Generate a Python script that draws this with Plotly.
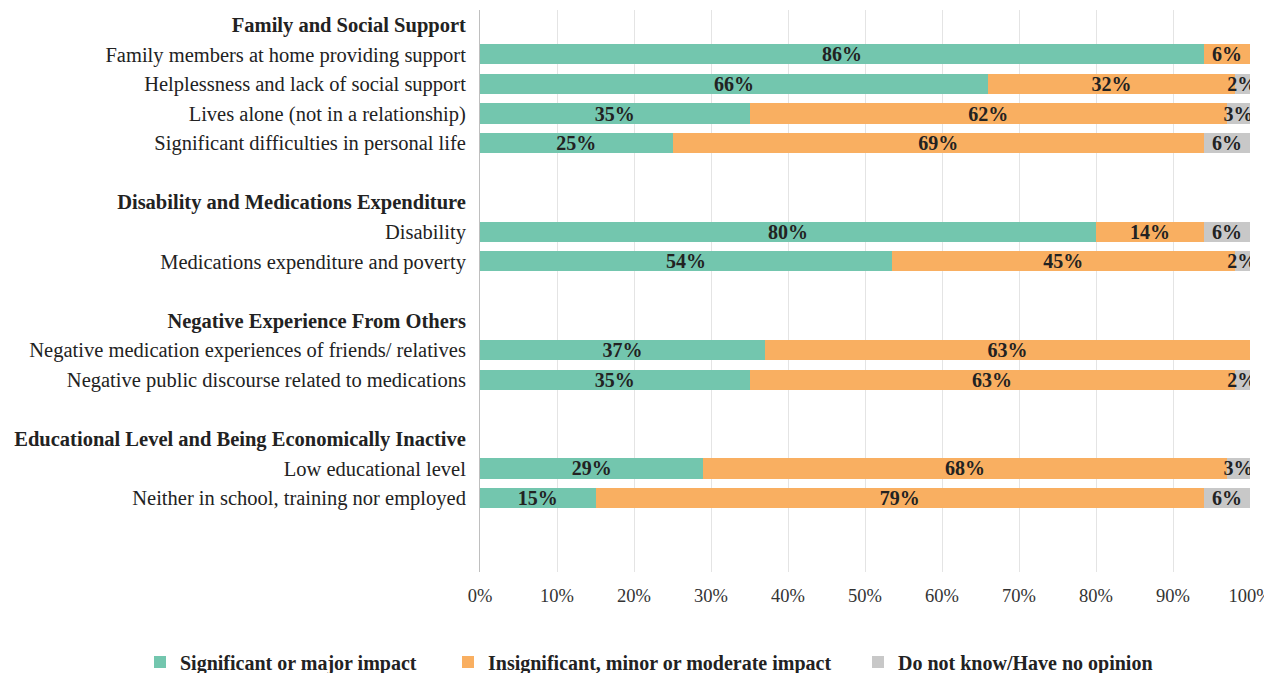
import plotly.graph_objects as go

groups = [
    "Family and Social Support",
    "Disability and Medications Expenditure",
    "Negative Experience From Others",
    "Educational Level and Being Economically Inactive",
]
items = [
    ["Family members at home providing support",
     "Helplessness and lack of social support",
     "Lives alone (not in a relationship)",
     "Significant difficulties in personal life"],
    ["Disability",
     "Medications expenditure and poverty"],
    ["Negative medication experiences of friends/ relatives",
     "Negative public discourse related to medications"],
    ["Low educational level",
     "Neither in school, training nor employed"],
]

categories = [
    "Family members at home providing support",
    "Helplessness and lack of social support",
    "Lives alone (not in a relationship)",
    "Significant difficulties in personal life",
    "Disability",
    "Medications expenditure and poverty",
    "Negative medication experiences of friends/ relatives",
    "Negative public discourse related to medications",
    "Low educational level",
    "Neither in school, training nor employed",
]
significant = [94, 66, 35, 25, 80, 53.5, 37, 35, 29, 15]
significant_labels = ["86%", "66%", "35%", "25%", "80%", "54%", "37%", "35%", "29%", "15%"]
insignificant = [6, 32, 62, 69, 14, 44.5, 63, 63, 68, 79]
insignificant_labels = ["6%", "32%", "62%", "69%", "14%", "45%", "63%", "63%", "68%", "79%"]
dont_know = [0, 2, 3, 6, 6, 2, 0, 2, 3, 6]
dont_know_labels = ["", "2%", "3%", "6%", "6%", "2%", "", "2%", "3%", "6%"]

series_names = [
    "Significant or major impact",
    "Insignificant, minor or moderate impact",
    "Do not know/Have no opinion",
]
colors = ["#73C6AE", "#F9AF61", "#C8C8C8"]

x_tickvals = [0, 10, 20, 30, 40, 50, 60, 70, 80, 90, 100]
x_ticktext = ["0%", "10%", "20%", "30%", "40%", "50%", "60%", "70%", "80%", "90%", "100%"]

# Build category order (with group headers and blank spacer rows)
cat_order = []
tick_text = []
blank_count = 0
for g, its in zip(groups, items):
    cat_order.append("HDR:" + g)
    tick_text.append("<b>" + g + "</b>")
    for it in its:
        cat_order.append(it)
        tick_text.append(it)
    blank_count += 1
    cat_order.append(" " * blank_count)
    tick_text.append("")
blank_count += 1
cat_order.append(" " * blank_count)
tick_text.append("")

FONT = "Liberation Serif, Times New Roman, serif"
W, H = 1272, 665

fig = go.Figure()
legend_ids = ["legend", "legend2", "legend3"]
for name, vals, labels, col, lg in zip(
        series_names,
        [significant, insignificant, dont_know],
        [significant_labels, insignificant_labels, dont_know_labels],
        colors, legend_ids):
    fig.add_trace(go.Bar(
        y=categories, x=vals, name=name, orientation="h",
        marker=dict(color=col, line=dict(width=0)),
        text=labels, textposition="inside", insidetextanchor="middle",
        textangle=0, constraintext="none",
        textfont=dict(family=FONT, size=20, color="#222222", weight="bold"),
        legend=lg, showlegend=True,
    ))

legend_common = dict(
    visible=True,
    orientation="h", xref="container", yref="container",
    yanchor="middle", y=(H - 654) / H, xanchor="left",
    font=dict(family=FONT, size=20, color="#222222", weight="bold"),
    bgcolor="rgba(0,0,0,0)",
)

fig.update_layout(
    showlegend=True,
    barmode="stack",
    bargap=0.32,
    width=W, height=H,
    margin=dict(l=472, r=30, t=2, b=101, autoexpand=False),
    plot_bgcolor="white", paper_bgcolor="white",
    xaxis=dict(
        range=[0, 100], tickvals=x_tickvals, ticktext=x_ticktext,
        showgrid=True, gridcolor="#E4E4E4", gridwidth=1, zeroline=False,
        tickfont=dict(family=FONT, size=18.5, color="#333333"),
        ticks="", ticklabelstandoff=10, automargin=False,
        ticklabeloverflow="allow",
    ),
    yaxis=dict(
        type="category", categoryorder="array", categoryarray=cat_order,
        tickvals=cat_order, ticktext=tick_text,
        range=[len(cat_order) - 0.5, -0.5],
        showline=True, linecolor="#BFBFBF", linewidth=1,
        showgrid=False, ticks="", ticklabelstandoff=9, automargin=False,
        tickfont=dict(family=FONT, size=20.5, color="#222222"),
        ticklabeloverflow="allow",
    ),
    legend=dict(x=132 / W, **legend_common),
    legend2=dict(x=440 / W, **legend_common),
    legend3=dict(x=850 / W, **legend_common),
)

fig.write_html("out.html")
